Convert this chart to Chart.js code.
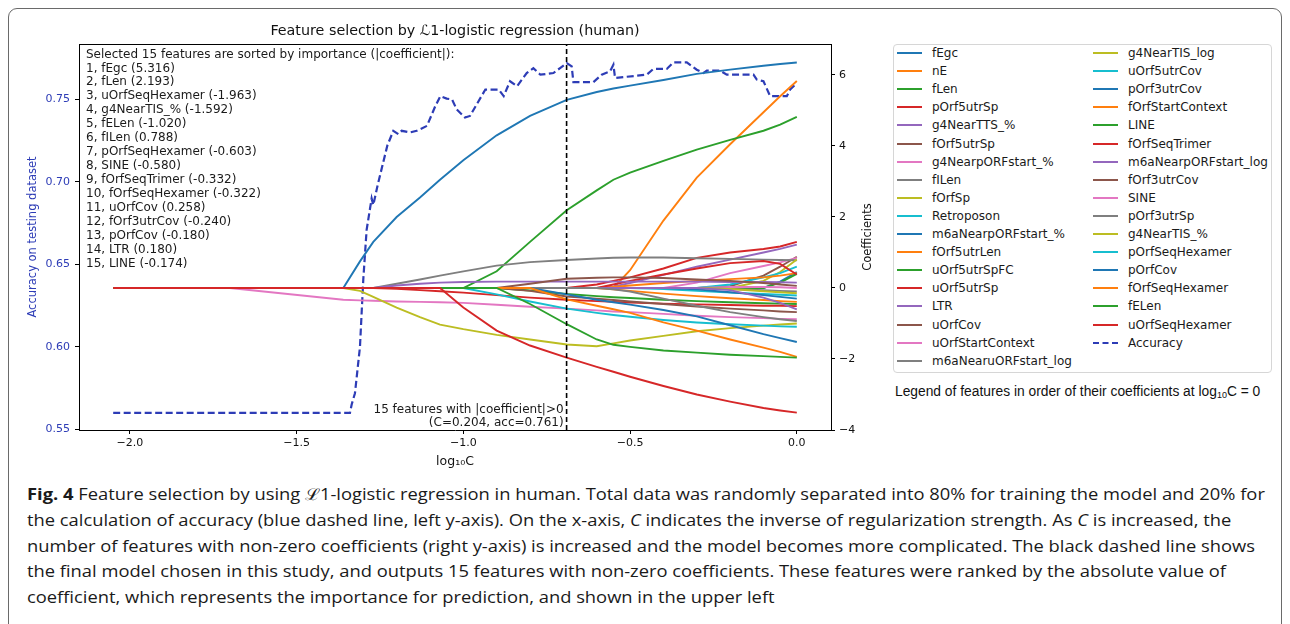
<!DOCTYPE html>
<html>
<head>
<meta charset="utf-8">
<script src="https://cdn.jsdelivr.net/npm/chart.js@4.4.0/dist/chart.umd.min.js"></script>
<style>
  body { margin: 0; background: #fff; width: 1290px; height: 624px; overflow: hidden; position: relative; }
  #frame { position: absolute; left: 8px; top: 8px; width: 1272px; height: 700px; border: 1.5px solid #6a6a6a; border-radius: 9px; }
  #chart { position: absolute; left: 0; top: 0; }
  #legend { position: absolute; left: 893px; top: 44px; width: 377px; height: 327px; border: 1px solid #d6d6d6; border-radius: 4px; font-family: "DejaVu Sans"; }
  .item { position: absolute; height: 14px; line-height: 14px; font-size: 12px; color: #1a1a1a; white-space: nowrap; }
  .item i { position: absolute; top: 6px; width: 25px; height: 0; border-top: 2px solid; }
  #legnote { position: absolute; left: 895px; top: 384px; font-family: "Liberation Sans"; font-size: 13.8px; color: #111; white-space: nowrap; }
  #legnote span { font-size: 9px; position: relative; top: 2px; }
  #caption { position: absolute; left: 27px; top: 482px; font-family: "Open Sans"; font-size: 16px; line-height: 25.8px; color: #1a1a1a; transform-origin: left top; white-space: nowrap; }
</style>
</head>
<body>
<div id="frame"></div>
<canvas id="chart" width="890" height="475"></canvas>
<div id="legend"></div>
<div id="legnote">Legend of features in order of their coefficients at log<span>10</span>C = 0</div>
<div id="caption">
  <div id="cap1"><b>Fig. 4</b> Feature selection by using ℒ1-logistic regression in human. Total data was randomly separated into 80% for training the model and 20% for</div>
  <div>the calculation of accuracy (blue dashed line, left y-axis). On the x-axis, <i>C</i> indicates the inverse of regularization strength. As <i>C</i> is increased, the</div>
  <div>number of features with non-zero coefficients (right y-axis) is increased and the model becomes more complicated. The black dashed line shows</div>
  <div>the final model chosen in this study, and outputs 15 features with non-zero coefficients. These features were ranked by the absolute value of</div>
  <div>coefficient, which represents the importance for prediction, and shown in the upper left</div>
</div>
<script>
// log10(C) grid the coefficient paths are read at
const LOGC = [-2.05, -1.7, -1.36, -1.31, -1.27, -1.2, -1.13, -1.07, -1.0, -0.9, -0.8, -0.69, -0.6, -0.55, -0.5, -0.4, -0.3, -0.2, -0.1, -0.05, 0.0];

// features, in legend order (coefficient at log10C = 0, descending)
const FEATURES = ["fEgc", "nE", "fLen", "pOrf5utrSp", "g4NearTTS_%", "fOrf5utrSp", "g4NearpORFstart_%", "fILen", "fOrfSp", "Retroposon",
  "m6aNearpORFstart_%", "fOrf5utrLen", "uOrf5utrSpFC", "uOrf5utrSp", "LTR", "uOrfCov", "uOrfStartContext", "m6aNearuORFstart_log",
  "g4NearTIS_log", "uOrf5utrCov", "pOrf3utrCov", "fOrfStartContext", "LINE", "fOrfSeqTrimer", "m6aNearpORFstart_log", "fOrf3utrCov",
  "SINE", "pOrf3utrSp", "g4NearTIS_%", "pOrfSeqHexamer", "pOrfCov", "fOrfSeqHexamer", "fELen", "uOrfSeqHexamer"];

// coefficient of each feature along LOGC (same order as FEATURES)
const COEF_PATHS = [
  [0,0,0,0.75,1.3,2.0,2.55,3.05,3.6,4.3,4.85,5.3,5.52,5.62,5.7,5.86,6.03,6.15,6.26,6.31,6.35],          // fEgc
  [0,0,0,0,0,0,0,0,0,0,0,0,0,0,0.5,1.9,3.11,4.05,4.95,5.4,5.83],                                     // nE
  [0,0,0,0,0,0,0,0,0,0.47,1.3,2.19,2.75,3.05,3.25,3.58,3.9,4.17,4.43,4.6,4.82],                       // fLen
  [0,0,0,0,0,0,0,0,0,0,0,0,0.1,0.2,0.3,0.55,0.85,1.0,1.1,1.17,1.3],                                   // pOrf5utrSp
  [0,0,0,0,0,0,0,0,0,0,0,0,0,0.04,0.14,0.37,0.6,0.8,1.0,1.1,1.22],                                    // g4NearTTS_%
  [0,0,0,0,0,0,0,0,0,0,0,0,0,0,0,0,0,0.05,0.35,0.6,0.88],                                             // fOrf5utrSp
  [0,0,0,0,0,0,0,0,0,0,0,0,0,0,0,0,0.15,0.42,0.62,0.72,0.85],                                         // g4NearpORFstart_%
  [0,0,0,0,0,0.12,0.24,0.35,0.47,0.63,0.73,0.79,0.83,0.85,0.86,0.86,0.84,0.82,0.8,0.79,0.78],         // fILen
  [0,0,0,0,0,0,0,0,0,0,0,0,0,0,0,0,0,0,0.2,0.45,0.8],                                                 // fOrfSp
  [0,0,0,0,0,0,0,0,0,0,0,0,0,0,0,0,0,0.1,0.3,0.42,0.6],                                               // Retroposon
  [0,0,0,0,0,0,0,0,0,0,0,0,0,0,0,0,0,0,0,0.18,0.45],                                                  // m6aNearpORFstart_%
  [0,0,0,0,0,0,0,0,0,0,0,0,0,0.03,0.07,0.14,0.2,0.25,0.3,0.35,0.42],                                  // fOrf5utrLen
  [0,0,0,0,0,0,0,0,0,0,0,0,0,0,0,0,0,0,0,0.15,0.4],                                                   // uOrf5utrSpFC
  [0,0,0,0,0,0,0,0,0,0,0,0,0,0.1,0.2,0.38,0.55,0.7,0.76,0.68,0.38],                                   // uOrf5utrSp
  [0,0,0,0,0,0.07,0.12,0.15,0.17,0.18,0.18,0.18,0.18,0.18,0.18,0.18,0.18,0.17,0.17,0.16,0.15],        // LTR
  [0,0,0,0,0,0,0,0,0,0,0.12,0.26,0.29,0.3,0.3,0.28,0.24,0.2,0.14,0.1,0.06],                           // uOrfCov
  [0,0,0,0,0,0,0,0,0,0,0,0,0,0,0,0,0,0.03,0.03,0.02,0.0],                                             // uOrfStartContext
  [0,0,0,0,0,0,0,0,0,0,0,0,0,0,0,0,0,-0.03,-0.06,-0.08,-0.1],                                         // m6aNearuORFstart_log
  [0,0,0,0,0,0,0,0,0,0,0,0,0,0,0,0,0,-0.03,-0.09,-0.12,-0.15],                                        // g4NearTIS_log
  [0,0,0,0,0,0,0,0,0,0,0,0,0,0,0,-0.03,-0.08,-0.13,-0.17,-0.19,-0.21],                                // uOrf5utrCov
  [0,0,0,0,0,0,0,0,0,0,0,0,0,0,0,0,-0.04,-0.12,-0.2,-0.25,-0.3],                                      // pOrf3utrCov
  [0,0,0,0,0,0,0,0,0,0,0,0,0,-0.04,-0.08,-0.16,-0.23,-0.29,-0.34,-0.37,-0.39],                        // fOrfStartContext
  [0,0,0,0,0,0,0,0,0,0,-0.07,-0.17,-0.23,-0.26,-0.28,-0.33,-0.37,-0.4,-0.43,-0.44,-0.45],             // LINE
  [0,0,0,0,0,-0.02,-0.06,-0.09,-0.13,-0.2,-0.27,-0.33,-0.37,-0.39,-0.41,-0.44,-0.46,-0.48,-0.5,-0.5,-0.51], // fOrfSeqTrimer
  [0,0,0,0,0,0,0,0,0,0,0,0,0,0,0,0,0,-0.06,-0.27,-0.42,-0.6],                                         // m6aNearpORFstart_log
  [0,0,0,0,0,0,0,0,0,0,-0.08,-0.24,-0.3,-0.34,-0.38,-0.45,-0.52,-0.58,-0.63,-0.66,-0.68],             // fOrf3utrCov
  [0,0,-0.33,-0.35,-0.36,-0.38,-0.39,-0.4,-0.42,-0.47,-0.53,-0.58,-0.63,-0.66,-0.68,-0.73,-0.78,-0.82,-0.85,-0.87,-0.88], // SINE
  [0,0,0,0,0,0,0,0,0,0,0,0,0,-0.04,-0.1,-0.3,-0.5,-0.68,-0.82,-0.88,-0.93],                           // pOrf3utrSp
  [0,0,0,-0.08,-0.25,-0.55,-0.82,-1.03,-1.16,-1.32,-1.45,-1.59,-1.64,-1.56,-1.48,-1.35,-1.22,-1.13,-1.06,-1.03,-1.0], // g4NearTIS_%
  [0,0,0,0,0,0,0,0,0,-0.18,-0.38,-0.58,-0.7,-0.76,-0.81,-0.9,-0.97,-1.02,-1.06,-1.08,-1.09],          // pOrfSeqHexamer
  [0,0,0,0,0,0,0,0,0,0,0,-0.18,-0.33,-0.4,-0.47,-0.62,-0.8,-1.05,-1.3,-1.41,-1.52],                   // pOrfCov
  [0,0,0,0,0,0,0,0,0,0,0,-0.32,-0.5,-0.6,-0.7,-0.97,-1.2,-1.45,-1.68,-1.8,-1.94],                     // fOrfSeqHexamer
  [0,0,0,0,0,0,0,0,0,0,-0.45,-1.02,-1.45,-1.6,-1.66,-1.76,-1.82,-1.88,-1.92,-1.94,-1.96],             // fELen
  [0,0,0,0,0,0,0,0,-0.55,-1.2,-1.62,-1.96,-2.22,-2.36,-2.5,-2.76,-3.0,-3.2,-3.38,-3.45,-3.51]         // uOrfSeqHexamer
];

// accuracy on testing dataset (left axis)
const ACC_X = [-2.05, -1.34, -1.335, -1.325, -1.31, -1.30, -1.29, -1.275, -1.27, -1.257, -1.228, -1.21, -1.195, -1.185, -1.16, -1.14,
  -1.129, -1.109, -1.084, -1.069, -1.05, -1.034, -1.02, -0.995, -0.98, -0.96, -0.934, -0.894, -0.879, -0.86, -0.839, -0.81, -0.79,
  -0.769, -0.73, -0.71, -0.69, -0.675, -0.67, -0.61, -0.585, -0.56, -0.55, -0.545, -0.45, -0.43, -0.39, -0.37, -0.33, -0.30, -0.28,
  -0.27, -0.23, -0.21, -0.13, -0.12, -0.10, -0.08, -0.03, -0.02, 0.0];
const ACC_Y = [0.5601, 0.5601, 0.565, 0.572, 0.600, 0.641, 0.671, 0.690, 0.686, 0.698, 0.722, 0.731, 0.729, 0.731, 0.730, 0.731,
  0.732, 0.734, 0.746, 0.752, 0.7505, 0.750, 0.744, 0.739, 0.740, 0.747, 0.756, 0.756, 0.752, 0.761, 0.758, 0.766, 0.769,
  0.765, 0.766, 0.769, 0.772, 0.770, 0.7605, 0.7605, 0.765, 0.767, 0.771, 0.763, 0.765, 0.7685, 0.7685, 0.7725, 0.7725, 0.768, 0.766,
  0.7675, 0.7675, 0.765, 0.765, 0.762, 0.761, 0.752, 0.752, 0.756, 0.760];

// selected model and its ranking
const CHOSEN_C = 0.204;
const CHOSEN_ACC = 0.761;
const RANK_NAMES = ["fEgc", "fLen", "uOrfSeqHexamer", "g4NearTIS_%", "fELen", "fILen", "pOrfSeqHexamer", "SINE", "fOrfSeqTrimer",
  "fOrfSeqHexamer", "uOrfCov", "fOrf3utrCov", "pOrfCov", "LTR", "LINE"];
const RANK_COEFS = [5.316, 2.193, -1.963, -1.592, -1.020, 0.788, -0.603, -0.580, -0.332, -0.322, 0.258, -0.240, -0.180, 0.180, -0.174];

// axes
const X_TICKS = [-2.0, -1.5, -1.0, -0.5, 0.0];
const ACC_TICKS = [0.55, 0.60, 0.65, 0.70, 0.75];
const COEF_TICKS = [-4, -2, 0, 2, 4, 6];

const TAB10 = ["#1f77b4", "#ff7f0e", "#2ca02c", "#d62728", "#9467bd", "#8c564b", "#e377c2", "#7f7f7f", "#bcbd22", "#17becf"];
const ACC_COLOR = "#2d3cb6";
const FONT = '"DejaVu Sans"';
const chosenLogC = Math.log10(CHOSEN_C);

const minus = (s) => s.replace("-", "\u2212");

//feature lines, later ones drawn on top like matplotlib
const datasets = FEATURES.map((name, i) => ({
    label: name,
    data: LOGC.map((x, j) => ({ x: x, y: COEF_PATHS[i][j] })),
    borderColor: TAB10[i % 10],
    borderWidth: 1.9,
    yAxisID: "y1",
    order: 100 - i,
}));

datasets.push({
    label: "Accuracy",
    data: ACC_X.map((x, j) => ({ x: x, y: ACC_Y[j] })),
    borderColor: ACC_COLOR,
    borderWidth: 2.2,
    borderDash: [7, 3.5],
    yAxisID: "y",
    order: 200,
});

//chosen model marker
datasets.push({
    label: "chosen",
    data: [{ x: chosenLogC, y: -4 }, { x: chosenLogC, y: 6.9 }],
    borderColor: "#000",
    borderWidth: 1.6,
    borderDash: [5, 3],
    yAxisID: "y1",
    order: -1,
});

//texts and top spine
const decor = {
    id: "decor",
    afterDatasetsDraw(chart) {
        const { ctx, chartArea: a, scales } = chart;
        ctx.save();
        ctx.strokeStyle = "#000";
        ctx.lineWidth = 1;
        ctx.beginPath();
        ctx.moveTo(a.left, a.top + 0.5);
        ctx.lineTo(a.right, a.top + 0.5);
        ctx.stroke();

        ctx.fillStyle = "#111";
        ctx.textBaseline = "middle";
        ctx.textAlign = "center";
        ctx.font = "14.3px " + FONT;
        ctx.fillText("Feature selection by \u21121-logistic regression (human)", (a.left + a.right) / 2, 31);

        ctx.save();
        ctx.translate(868, (a.top + a.bottom) / 2);
        ctx.rotate(-Math.PI / 2);
        ctx.font = "11.5px " + FONT;
        ctx.fillText("Coefficients", 0, 0);
        ctx.restore();

        ctx.textAlign = "left";
        ctx.font = "12px " + FONT;
        ctx.fillStyle = "#1a1a1a";
        const lines = ["Selected " + RANK_NAMES.length + " features are sorted by importance (|coefficient|):"].concat(
            RANK_NAMES.map((n, i) => (i + 1) + ", " + n + " (" + RANK_COEFS[i].toFixed(3) + ")"));
        lines.forEach((t, i) => ctx.fillText(t, 86, 54.5 + i * 13.93));

        const xc = scales.x.getPixelForValue(chosenLogC);
        ctx.textAlign = "right";
        ctx.fillText(RANK_NAMES.length + " features with |coefficient|>0", xc - 3, 410);
        ctx.fillText("(C=" + CHOSEN_C.toFixed(3) + ", acc=" + CHOSEN_ACC.toFixed(3) + ")", xc - 3, 423);
        ctx.restore();
    },
};

const tickFont = { family: "DejaVu Sans", size: 11 };

new Chart(document.getElementById("chart"), {
    type: "line",
    data: { datasets: datasets },
    options: {
        responsive: false,
        animation: false,
        devicePixelRatio: 1,
        layout: { padding: { top: 44, left: 0, right: 0, bottom: 0 } },
        elements: { point: { radius: 0 }, line: { tension: 0 } },
        plugins: { legend: { display: false }, tooltip: { enabled: false } },
        scales: {
            x: {
                type: "linear",
                min: -2.1525,
                max: 0.1025,
                afterFit: (s) => { s.height = 45; },
                afterBuildTicks: (s) => { s.ticks = X_TICKS.map((v) => ({ value: v })); },
                ticks: { autoSkip: false, maxRotation: 0, padding: 3, color: "#111", font: tickFont,
                    callback: (v) => minus(v.toFixed(1)) },
                grid: { drawOnChartArea: false, tickLength: 4, color: "#000" },
                border: { color: "#000", width: 1 },
                title: { display: true, text: "log\u2081\u2080C", color: "#111", font: { family: "DejaVu Sans", size: 12.5 },
                    padding: { top: 0, bottom: 6 } },
            },
            y: {
                type: "linear",
                position: "left",
                min: 0.5497,
                max: 0.7836,
                afterFit: (s) => { s.width = 79; },
                afterBuildTicks: (s) => { s.ticks = ACC_TICKS.map((v) => ({ value: v })); },
                ticks: { autoSkip: false, padding: 5, color: ACC_COLOR, font: tickFont, callback: (v) => v.toFixed(2) },
                grid: { drawOnChartArea: false, tickLength: 4, color: "#000" },
                border: { color: "#000", width: 1 },
                title: { display: true, text: "Accuracy on testing dataset", color: ACC_COLOR,
                    font: { family: "DejaVu Sans", size: 11.5 }, padding: { top: 26, bottom: 0 } },
            },
            y1: {
                type: "linear",
                position: "right",
                min: -4.0,
                max: 6.873,
                afterFit: (s) => { s.width = 59; },
                afterBuildTicks: (s) => { s.ticks = COEF_TICKS.map((v) => ({ value: v })); },
                ticks: { autoSkip: false, padding: 4, color: "#111", font: tickFont, callback: (v) => minus(String(v)) },
                grid: { drawOnChartArea: false, tickLength: 4, color: "#000" },
                border: { color: "#000", width: 1 },
            },
        },
    },
    plugins: [decor],
});

//legend in two columns, column-major like matplotlib
const legend = document.getElementById("legend");
const entries = FEATURES.map((n, i) => ({ name: n, color: TAB10[i % 10], dash: false }));
entries.push({ name: "Accuracy", color: ACC_COLOR, dash: true });
const rows = Math.ceil(entries.length / 2);
entries.forEach((e, k) => {
    const col = Math.floor(k / rows);
    const row = k % rows;
    const item = document.createElement("div");
    item.className = "item";
    item.style.top = (8 + row * 18.1 - 7) + "px";
    item.style.left = (col === 0 ? 3 : 199) + "px";
    const mark = document.createElement("i");
    mark.style.borderTopColor = e.color;
    if (e.dash) mark.style.borderTopStyle = "dashed";
    item.appendChild(mark);
    const txt = document.createElement("span");
    txt.textContent = e.name;
    txt.style.marginLeft = "35px";
    item.appendChild(txt);
    legend.appendChild(item);
});

//fit caption width to the original line length
const cap = document.getElementById("caption");
const w = document.getElementById("cap1").scrollWidth;
cap.style.transform = "scaleX(" + (1238 / w) + ")";
</script>
</body>
</html>
